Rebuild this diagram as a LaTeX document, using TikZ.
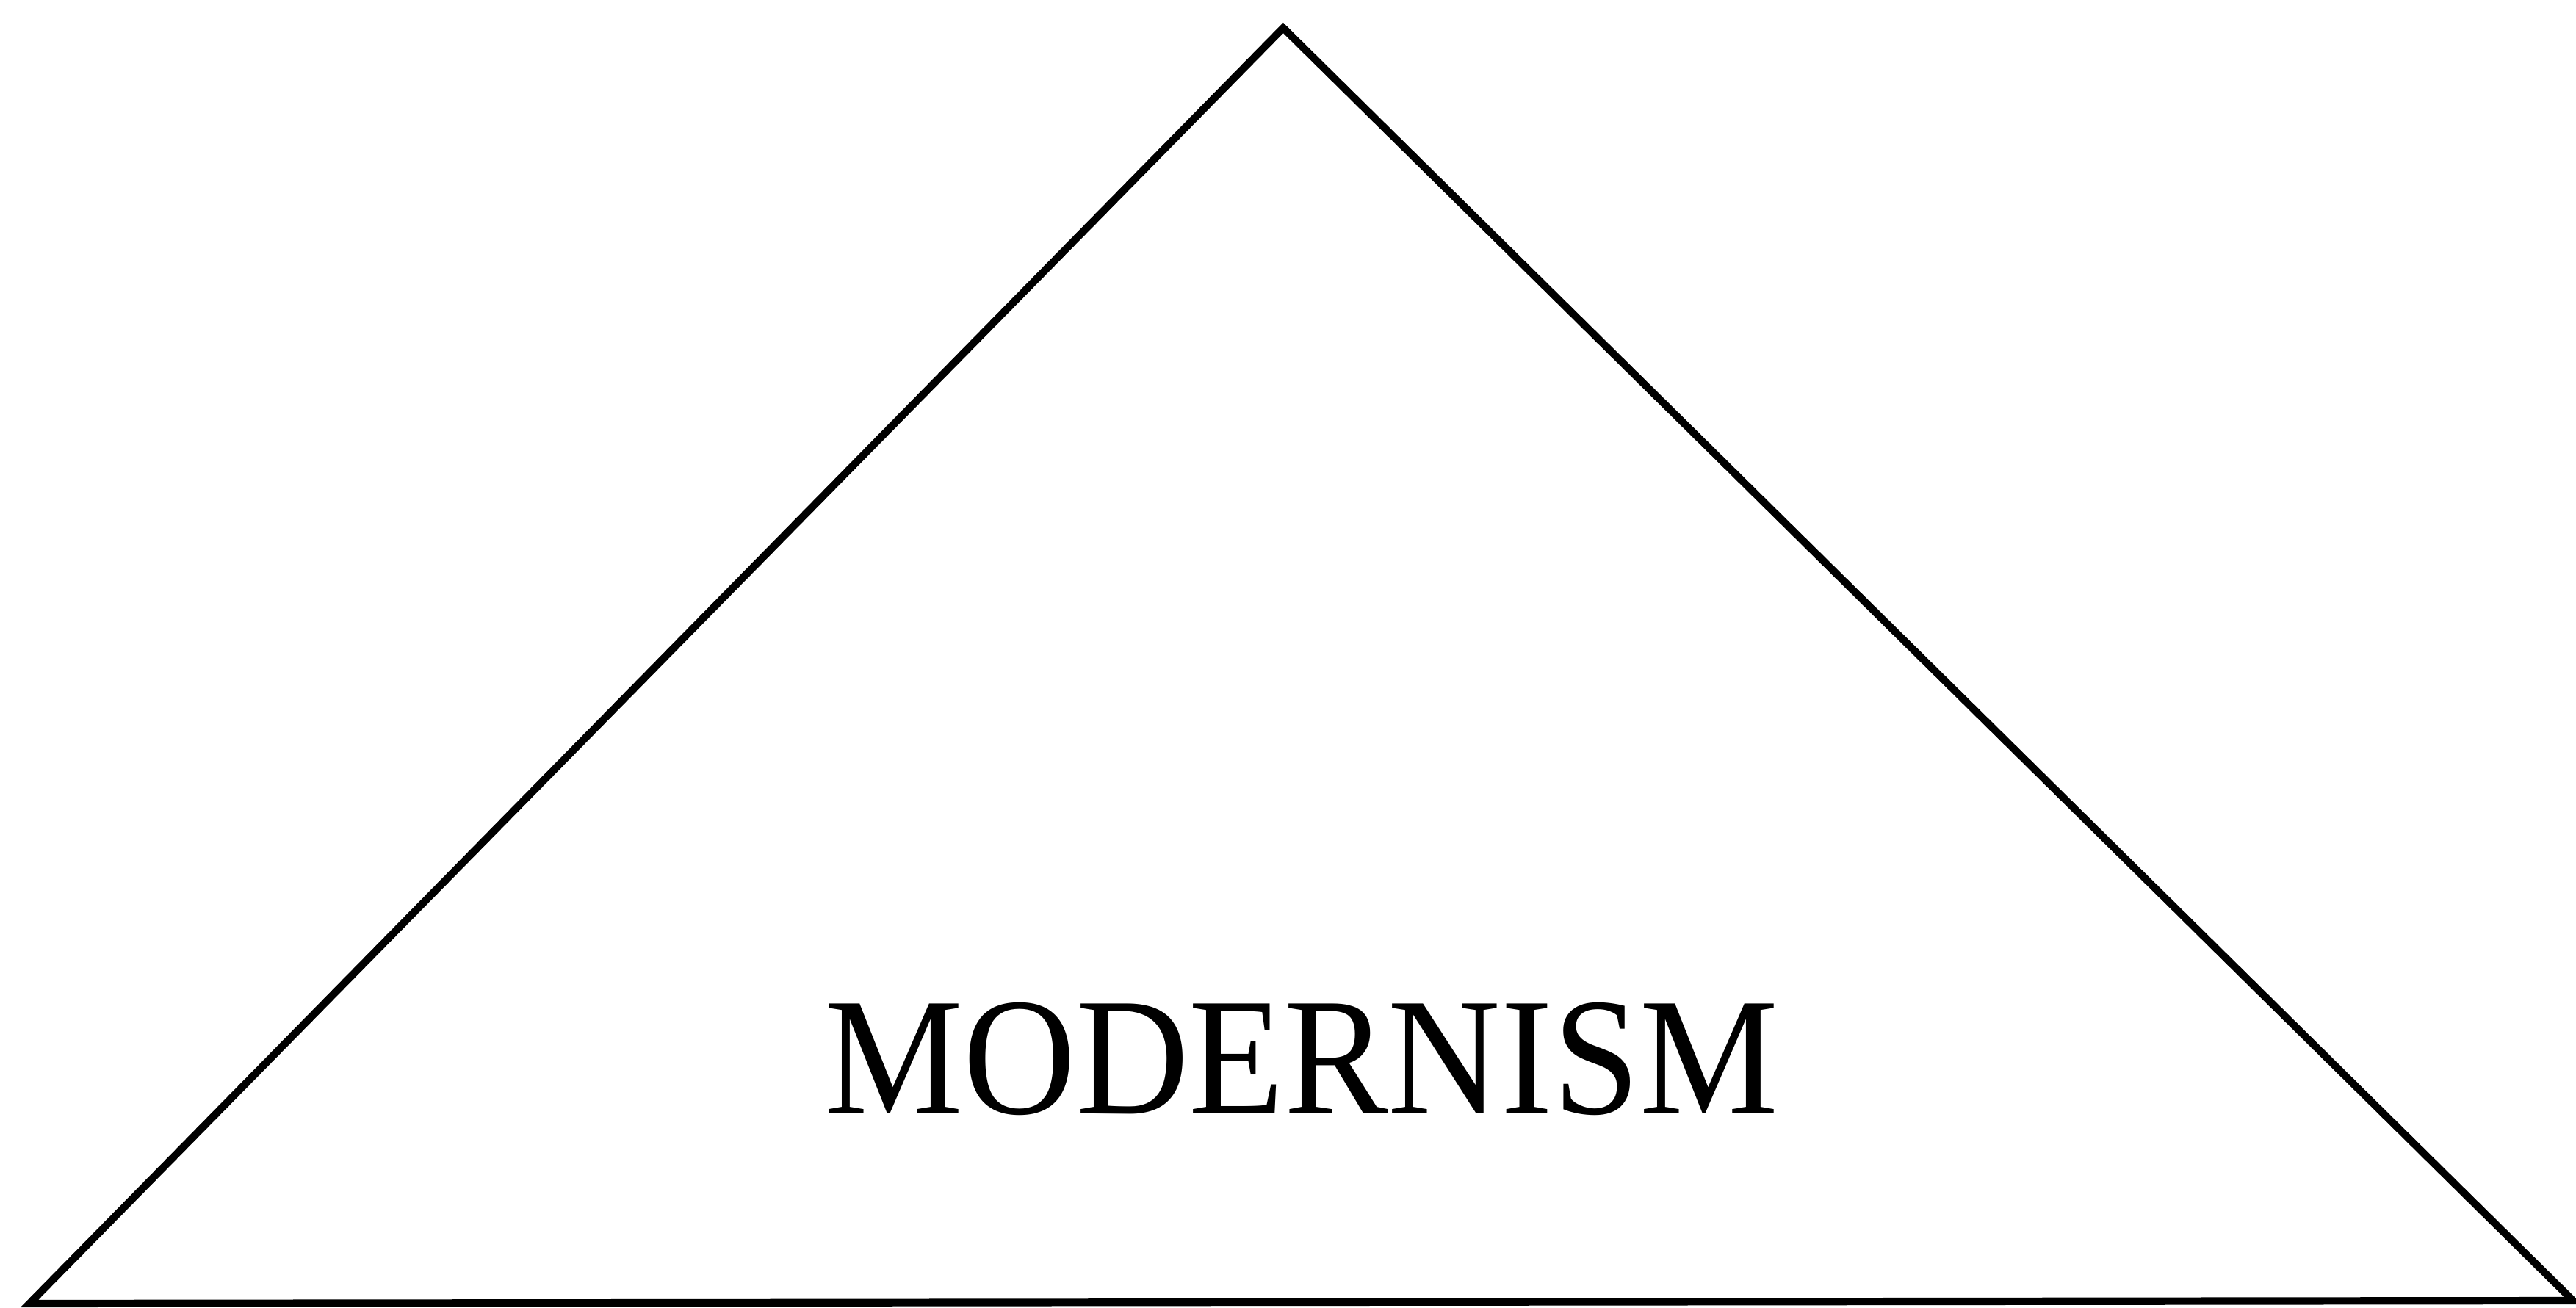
\documentclass[tikz,border=0pt]{standalone}
\usepackage{fontspec}
\setmainfont{Liberation Serif}
\usetikzlibrary{positioning}
\definecolor{ink}{HTML}{000000}
\tikzset{
  edge/.style={draw=ink, line width=2.9pt, line join=miter},
  label/.style={font=\fontsize{65}{70}\selectfont, text=ink, inner sep=0pt, anchor=base, xscale=0.93, transform shape}
}
\begin{document}
\begin{tikzpicture}
  \useasboundingbox (0,0) rectangle (35.07,17.80);
  \coordinate (apex) at (17.47,17.42);
  \coordinate (left) at (0.40,0.05);
  \coordinate (right) at (35.03,0.09);

  \draw[edge] (apex) -- (left) -- (right) -- cycle;

  \node[label] (mod) at (17.72,2.64) {MODERNISM};
\end{tikzpicture}
\end{document}
